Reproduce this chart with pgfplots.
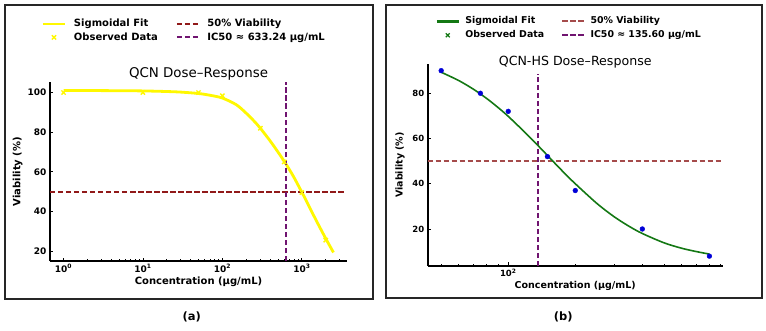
\documentclass[border=0pt]{standalone}
\usepackage{fontspec}
\setmainfont{DejaVu Sans}
\usepackage{pgfplots}
\pgfplotsset{compat=1.18}
\definecolor{cyel}{RGB}{255,248,0}
\definecolor{cdred}{RGB}{145,25,25}
\definecolor{cpur}{RGB}{112,20,112}
\definecolor{cbrn}{RGB}{165,75,75}
\definecolor{cgrn}{RGB}{20,120,20}
\definecolor{cblu}{RGB}{0,0,215}
\begin{document}
\begin{tikzpicture}[x=1pt,y=1pt]
\path[use as bounding box] (0,0) rectangle (766,330);
\draw[line width=2pt, black!85] (5,31) rectangle (373.3,325);
\draw[line width=2pt, black!85] (385.5,32) rectangle (761.7,325);
\node[font=\bfseries\fontsize{11.5}{13}\selectfont] at (191.7,13.3) {(a)};
\node[font=\bfseries\fontsize{11.5}{13}\selectfont] at (563.3,13.3) {(b)};

\begin{axis}[xmode=log, scale only axis, at={(50pt,69pt)}, anchor=south west, width=297pt, height=179pt,
 axis x line*=bottom, axis y line*=left,
 axis line style={line width=1.8pt, black},
 tick align=inside, major tick length=3.5pt, minor tick length=2pt,
 every tick/.style={black, line width=0.8pt},
 legend cell align=left,
 legend image code/.code={\draw[mark repeat=2,mark phase=2,#1] plot coordinates {(0pt,0pt) (11pt,0pt) (22pt,0pt)};},
 xmin=0.676, xmax=3700, ymin=15, ymax=105.3,
 xtick={1,10,100,1000},
 xticklabels={10\textsuperscript{0},10\textsuperscript{1},10\textsuperscript{2},10\textsuperscript{3}},
 minor xtick={2,3,4,5,6,7,8,9,20,30,40,50,60,70,80,90,200,300,400,500,600,700,800,900,2000,3000},
 ytick={20,40,60,80,100}, yticklabels={20,40,60,80,100},
 tick label style={font=\bfseries\fontsize{9}{10}\selectfont},
 xlabel={Concentration (μg/mL)}, ylabel={Viability (\%)},
 label style={font=\bfseries\fontsize{10}{12}\selectfont},
 xlabel style={at={(axis description cs:0.5,-0.116)}, anchor=center},
 ylabel style={at={(axis description cs:-0.109,0.5)}, anchor=center},
 title={QCN Dose--Response},
 title style={at={(axis description cs:0.5,1.05)}, anchor=center, yshift=-7pt, font=\fontsize{13.4}{15}\selectfont},
 legend style={draw=none, fill=none, inner sep=0pt, outer sep=0pt,
   at={(axis description cs:-0.0283,1.3503)}, anchor=north west,
   font=\bfseries\fontsize{10}{12}\selectfont,
   nodes={inner sep=0pt, text height=7.5pt, text depth=2pt}, row sep=3.9pt,
   /tikz/every odd column/.append style={column sep=7.6pt},
   /tikz/every even column/.append style={column sep=18pt}},
 legend columns=2,
]
\addlegendimage{cyel, line width=2.8pt}\addlegendentry{Sigmoidal Fit}
\addlegendimage{cdred, line width=2pt, dash pattern=on 5.5pt off 2.5pt}\addlegendentry{50\% Viability}
\addlegendimage{cyel, only marks, mark=x, mark size=3pt, line width=1.4pt}\addlegendentry{Observed Data}
\addlegendimage{cpur, line width=2pt, dash pattern=on 5.5pt off 2.5pt}\addlegendentry{IC50 ≈ 633.24 μg/mL}

\addplot[forget plot, cyel, line width=2.8pt, smooth] coordinates {
(1,101.0)(2,101.0)(5,100.9)(10,100.8)(20,100.5)(30,100.2)(50,99.5)(70,98.6)(100,97.2)(150,93.8)(200,89.5)(250,85.6)(300,82)(400,75.5)(500,70)(600,65.3)(700,61)(800,57)(1000,49.7)(1200,43.5)(1500,35.8)(2000,26.3)(2500,19.3)};
\addplot[forget plot, cyel, only marks, mark=x, mark size=3pt, line width=1.4pt] coordinates {
(1,100)(10,100)(50,100)(100,98.4)(300,82)(600,65)(1000,49.5)(2000,25.5)};
\addplot[forget plot, cdred, line width=2pt, dash pattern=on 5.5pt off 2.5pt] coordinates {(0.676,50)(3400,50)};
\addplot[forget plot, cpur, line width=2pt, dash pattern=on 5.5pt off 2.5pt] coordinates {(633.24,15)(633.24,105.3)};
\end{axis}

\begin{axis}[xmode=log, scale only axis, at={(427.7pt,64.3pt)}, anchor=south west, width=295pt, height=201.4pt,
 axis x line*=bottom, axis y line*=left,
 axis line style={line width=1.8pt, black},
 tick align=inside, major tick length=3.5pt, minor tick length=2pt,
 every tick/.style={black, line width=0.8pt},
 legend cell align=left,
 legend image code/.code={\draw[mark repeat=2,mark phase=2,#1] plot coordinates {(0pt,0pt) (11pt,0pt) (22pt,0pt)};},
 xmin=43.5, xmax=918, ymin=3.77, ymax=92.8,
 xtick={100}, xticklabels={10\textsuperscript{2}},
 minor xtick={50,60,70,80,90,200,300,400,500,600,700,800,900},
 ytick={20,40,60,80}, yticklabels={20,40,60,80},
 tick label style={font=\bfseries\fontsize{8.5}{10}\selectfont},
 xlabel={Concentration (μg/mL)}, ylabel={Viability (\%)},
 label style={font=\bfseries\fontsize{9.5}{11}\selectfont},
 xlabel style={at={(axis description cs:0.5,-0.0993)}, anchor=center},
 ylabel style={at={(axis description cs:-0.094,0.5)}, anchor=center},
 title={QCN-HS Dose--Response},
 title style={at={(axis description cs:0.5,1.021)}, anchor=center, yshift=-8pt, font=\fontsize{12.6}{14}\selectfont},
 legend style={draw=none, fill=none, inner sep=0pt, outer sep=0pt,
   at={(axis description cs:0.0267,1.235)}, anchor=north west,
   font=\bfseries\fontsize{9.4}{11}\selectfont,
   nodes={inner sep=0pt, text height=7pt, text depth=2pt}, row sep=4.8pt,
   /tikz/every odd column/.append style={column sep=5.4pt},
   /tikz/every even column/.append style={column sep=17pt}},
 legend columns=2,
]
\addlegendimage{cgrn, line width=2.4pt}\addlegendentry{Sigmoidal Fit}
\addlegendimage{cbrn, line width=2pt, dash pattern=on 5.5pt off 2.5pt}\addlegendentry{50\% Viability}
\addlegendimage{cgrn, only marks, mark=x, mark size=2.8pt, line width=1.3pt}\addlegendentry{Observed Data}
\addlegendimage{cpur, line width=2pt, dash pattern=on 5.5pt off 2.5pt}\addlegendentry{IC50 ≈ 135.60 μg/mL}

\addplot[forget plot, cbrn, line width=1.8pt, dash pattern=on 5.5pt off 2.5pt] coordinates {(43.5,50)(918,50)};
\addplot[forget plot, cpur, line width=1.8pt, dash pattern=on 5.5pt off 2.5pt] coordinates {(135.6,0)(135.6,88.5)};
\addplot[forget plot, cgrn, line width=1.6pt, smooth] coordinates {
(50,89.3)(60,85.6)(70,81.7)(80,77.7)(90,73.7)(100,69.8)(120,62.3)(140,55.6)(160,49.6)(180,44.4)(200,40.0)(250,31.3)(300,25.3)(350,21.1)(400,18.0)(500,13.9)(600,11.5)(700,10.0)(800,8.9)};
\addplot[forget plot, cblu, only marks, mark=*, mark size=2.4pt] coordinates {
(50,90)(75,80)(100,72)(150,52)(200,37)(400,20)(800,8)};
\end{axis}
\end{tikzpicture}
\end{document}
